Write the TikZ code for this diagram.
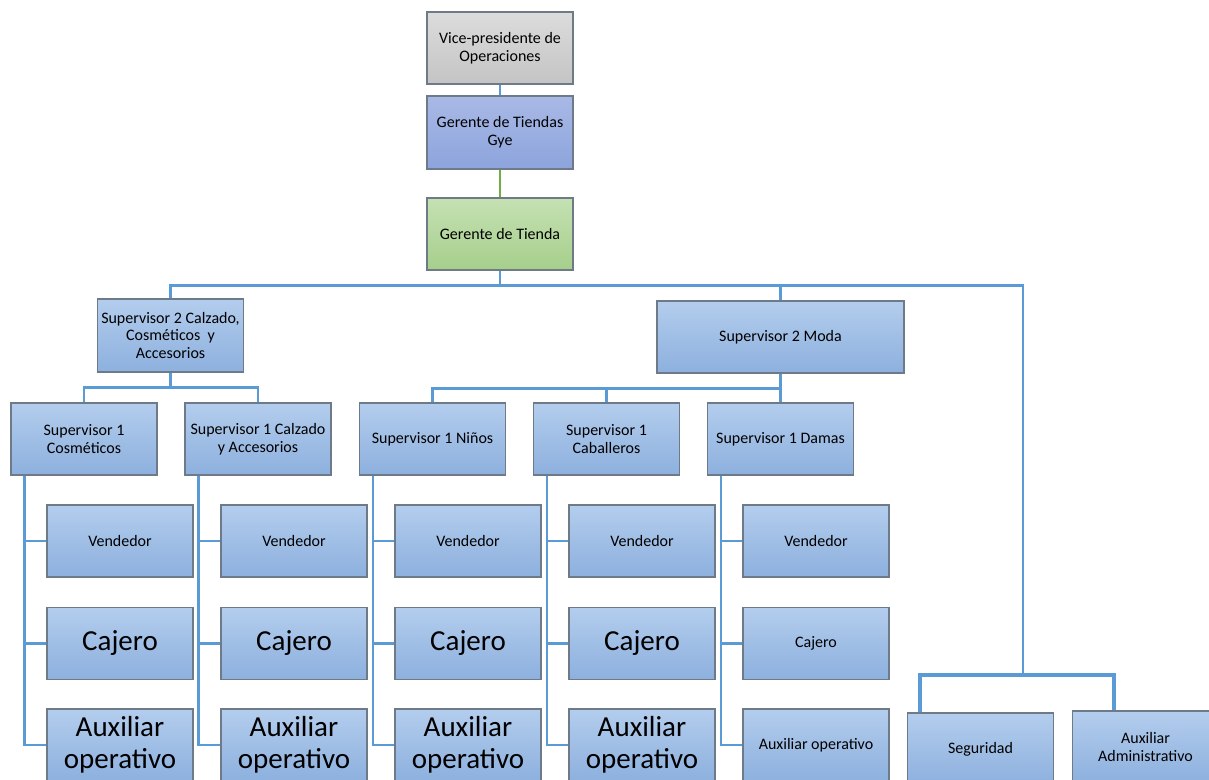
\documentclass[tikz,border=0pt]{standalone}
\usepackage{fontspec}
\setmainfont{Carlito}
\usetikzlibrary{calc}
\definecolor{boxtop}{HTML}{B3CDED}
\definecolor{boxbot}{HTML}{8DB0DE}
\definecolor{boxedge}{HTML}{6E7A88}
\definecolor{lineblue}{HTML}{5B9BD5}
\definecolor{linegreen}{HTML}{70AD47}
\definecolor{graytop}{HTML}{DCDCDC}
\definecolor{graybot}{HTML}{C4C4C4}
\definecolor{purtop}{HTML}{A9B9E6}
\definecolor{purbot}{HTML}{8CA4DC}
\definecolor{grtop}{HTML}{C5E1B3}
\definecolor{grbot}{HTML}{A6CF8B}
\begin{document}
\begin{tikzpicture}[x=0.75pt,y=-0.75pt,
  box/.style={draw=boxedge, line width=0.9pt, top color=boxtop, bottom color=boxbot,
    minimum width=109.5pt, minimum height=54pt, inner sep=1pt, align=center,
    font=\fontsize{12}{13.3}\selectfont},
  big/.style={font=\fontsize{21.75}{23.8}\selectfont},
  conn/.style={draw=lineblue, line width=2pt},
  thickconn/.style={draw=lineblue, line width=2.6pt},
]
\useasboundingbox (0,0) rectangle (1209,780);
\clip (0,0) rectangle (1209,780);

% top chain
\node[box, top color=graytop, bottom color=graybot] (vp) at (500,48) {Vice-presidente de\\Operaciones};
\node[box, top color=purtop, bottom color=purbot, minimum height=54.75pt] (gtg) at (500,132.5) {Gerente de Tiendas\\Gye};
\node[box, top color=grtop, bottom color=grbot] (gt) at (500,234) {Gerente de Tienda};

% level 2
\node[box, minimum height=54.75pt] (s2c) at (170.5,335.5) {Supervisor 2 Calzado,\\Cosméticos\ \ y\\Accesorios};
\node[box, minimum width=185.25pt] (s2m) at (780.5,337) {Supervisor 2 Moda};

% level 3
\node[box] (scos) at (84,439) {Supervisor 1\\Cosméticos};
\node[box] (scal) at (258,439) {Supervisor 1 Calzado\\y Accesorios};
\node[box] (snin) at (432.5,439) {Supervisor 1 Niños};
\node[box] (scab) at (606.5,439) {Supervisor 1\\Caballeros};
\node[box] (sdam) at (780.5,439) {Supervisor 1 Damas};

% level 4
\foreach \n/\x in {cos/120, cal/294, nin/468, cab/642}{
  \node[box] (v\n) at (\x,541) {Vendedor};
  \node[box,big] (c\n) at (\x,643.5) {Cajero};
  \node[box,big] (a\n) at (\x,745) {Auxiliar\\operativo};
}
\node[box] (vdam) at (816,541) {Vendedor};
\node[box] (cdam) at (816,643.5) {Cajero};
\node[box] (adam) at (816,745) {Auxiliar operativo};

% staff
\node[box] (seg) at (980.5,749) {Seguridad};
\node[box] (aadm) at (1145.5,747) {Auxiliar\\Administrativo};

% connectors
\draw[conn] (vp.south) -- (gtg.north);
\draw[draw=linegreen, line width=1.6pt] (gtg.south) -- (gt.north);
\draw[conn] (gt.south) -- ++(0,15) -| (s2c.north);
\draw[conn] (gt.south) -- ++(0,15) -| (s2m.north);
\coordinate (rb) at (1023,675);
\draw[conn] (gt.south) -- ++(0,15) -| (rb);
\draw[thickconn] (rb) -| ([xshift=9.75pt]seg.north west);
\draw[thickconn] (rb) -| ([xshift=31.5pt]aadm.north west);

\draw[conn] (s2c.south) -- ++(0,15) -| (scos.north);
\draw[conn] (s2c.south) -- ++(0,15) -| (scal.north);
\draw[conn] (s2m.south) -- ++(0,15) -| (snin.north);
\draw[conn] (s2m.south) -- ++(0,15) -| (scab.north);
\draw[conn] (s2m.south) -- (sdam.north);

\foreach \n in {cos,cal,nin,cab,dam}{
  \draw[conn] ([xshift=10.5pt]s\n.south west) |- (a\n.west);
  \draw[conn] ([xshift=10.5pt]s\n.south west) |- (v\n.west);
  \draw[conn] ([xshift=10.5pt]s\n.south west) |- (c\n.west);
}
\end{tikzpicture}
\end{document}
